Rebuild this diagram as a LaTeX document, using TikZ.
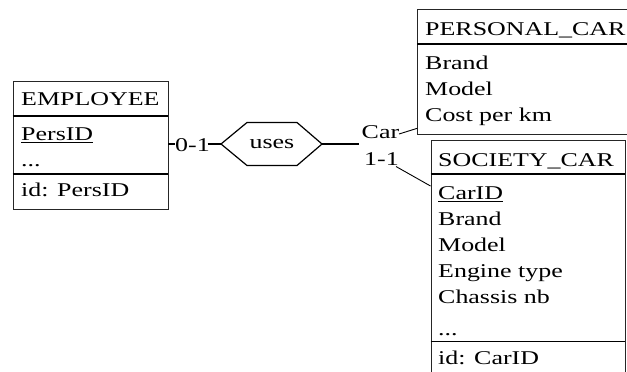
\documentclass[tikz,border=0pt]{standalone}
\usepackage{fontspec}
\setmainfont{Liberation Serif}[FakeStretch=1.33]
\tikzset{
  ebox/.style={draw=black!85, line width=1.1pt, inner sep=0pt, anchor=north west},
  sep/.style={draw=black, line width=1.9pt},
  txt/.style={anchor=base west, inner sep=0pt, font=\fontsize{19.5}{26}\selectfont},
  lbl/.style={anchor=base west, inner sep=0pt, font=\fontsize{19.5}{26}\selectfont},
  conn/.style={draw=black, line width=1.2pt},
  hexa/.style={draw=black, line width=1.2pt, line join=miter},
}
\newcommand{\ul}[1]{\underline{#1}}
\begin{document}
\begin{tikzpicture}[x=1pt,y=-1pt]
\useasboundingbox (0,0) rectangle (627,372);
\clip (0,0) rectangle (627,372);
% EMPLOYEE
\node[ebox, minimum width=155.5pt, minimum height=128pt] (emp) at (12.5,81) {};
\draw[sep] (12.5,116) -- (168,116);
\draw[sep] (12.5,174) -- (168,174);
\node[txt] (empT) at (21,105) {EMPLOYEE};
\node[txt] (empA1) at (21,140.5) {\ul{PersID}};
\node[txt] (empA2) at (21,166.7) {...};
\node[txt] (empId) at (21,196.7) {id: PersID};
% PERSONAL_CAR
\node[ebox, minimum width=240pt, minimum height=124.7pt] (pcar) at (417.3,9.3) {};
\draw[sep] (417.3,44) -- (657,44);
\node[txt] (pcarT) at (425,35.7) {PERSONAL\_CAR};
\node[txt] (pcarA1) at (425,69) {Brand};
\node[txt] (pcarA2) at (425,95.7) {Model};
\node[txt] (pcarA3) at (425,121.7) {Cost per km};
% SOCIETY_CAR
\node[ebox, minimum width=194.5pt, minimum height=260pt] (scar) at (430.5,139.5) {};
\draw[sep] (430.5,174) -- (625,174);
\draw[sep] (430.5,341.5) -- (625,341.5);
\node[txt] (scarT) at (438,166.7) {SOCIETY\_CAR};
\node[txt] (scarA1) at (438,199.3) {\ul{CarID}};
\node[txt] (scarA2) at (438,225) {Brand};
\node[txt] (scarA3) at (438,251) {Model};
\node[txt] (scarA4) at (438,277.3) {Engine type};
\node[txt] (scarA5) at (438,303.3) {Chassis nb};
\node[txt] (scarA6) at (438,335) {...};
\node[txt] (scarId) at (438,364) {id: CarID};
% relationship
\node[inner sep=0pt, font=\fontsize{19.5}{26}\selectfont] (uses) at (272,144) {uses};
\coordinate (hL) at (221,144);
\coordinate (hR) at (322,144);
\draw[hexa] (hL) -- (247,122.5) -- (297,122.5) -- (hR) -- (297,165.5) -- (247,165.5) -- cycle;
% roles
\node[lbl] (c01) at (175,151.7) {0-1};
\node[lbl] (car) at (361.5,138.3) {Car};
\node[lbl] (c11) at (364,165) {1-1};
\coordinate (e1) at (168,144);
\coordinate (e2) at (175,144);
\coordinate (e3) at (207.5,144);
\coordinate (e4) at (359,144);
\draw[conn] (e1) -- (e2);
\draw[conn] (e3) -- (hL);
\draw[conn] (hR) -- (e4);
\draw[line width=0.9pt] (399,134) -- (417.3,128.3);
\draw[line width=0.9pt] (396,166.5) -- (430.5,186);
\end{tikzpicture}
\end{document}
